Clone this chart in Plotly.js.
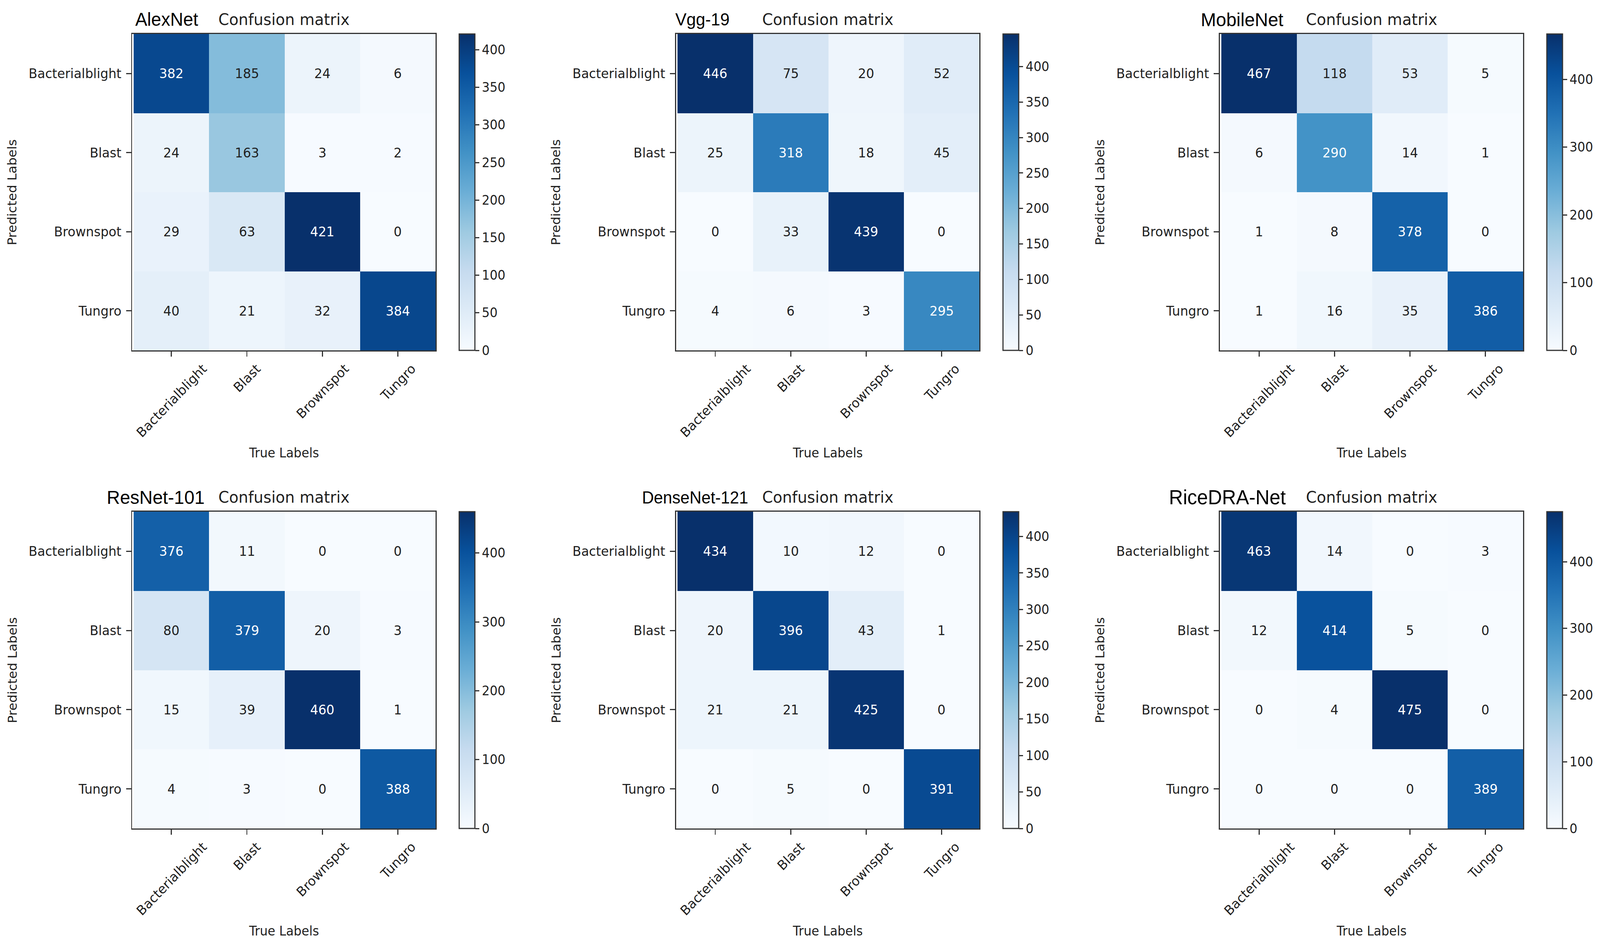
<!DOCTYPE html>
<html><head><meta charset="utf-8">
<script src="https://cdn.plot.ly/plotly-3.0.1.min.js"></script>
<style>html,body{margin:0;padding:0;background:#fff;overflow:hidden}#chart{width:4272px;height:2427px;transform-origin:0 0}</style>
</head><body><div id="chart"></div>
<script>
// ---- data ----
const classLabels = ['Bacterialblight', 'Blast', 'Brownspot', 'Tungro'];
const modelNames = ['AlexNet', 'Vgg-19', 'MobileNet', 'ResNet-101', 'DenseNet-121', 'RiceDRA-Net'];
const alexnet     = [[382,185,24,6],[24,163,3,2],[29,63,421,0],[40,21,32,384]];
const vgg19       = [[446,75,20,52],[25,318,18,45],[0,33,439,0],[4,6,3,295]];
const mobilenet   = [[467,118,53,5],[6,290,14,1],[1,8,378,0],[1,16,35,386]];
const resnet101   = [[376,11,0,0],[80,379,20,3],[15,39,460,1],[4,3,0,388]];
const densenet121 = [[434,10,12,0],[20,396,43,1],[21,21,425,0],[0,5,0,391]];
const ricedranet  = [[463,14,0,3],[12,414,5,0],[0,4,475,0],[0,0,0,389]];
const colorbarDticks = [50, 50, 100, 100, 50, 100];
const titleText = 'Confusion matrix';
const xTitle = 'True Labels';
const yTitle = 'Predicted Labels';

// ---- styling ----
const matrices = [alexnet, vgg19, mobilenet, resnet101, densenet121, ricedranet];
const W = 4272, H = 2427;
const colLeft = [353, 1805, 3257];
const cellSpan = 810;
const rowTop = [87, 1310];
const rowBottom = [897, 2121];
const nameSizes = [48, 45, 49, 49, 44, 52];
const nameOffsets = [6, -4, -53, -70, -93, -138];
const blues = [[0,'#f7fbff'],[0.125,'#deebf7'],[0.25,'#c6dbef'],[0.375,'#9ecae1'],[0.5,'#6baed6'],[0.625,'#4292c6'],[0.75,'#2171b5'],[0.875,'#08519c'],[1,'#08306b']];
const FONT = 'DejaVu Sans';
const dark = '#333333';
const txt = '#1f1f1f';

const data = [];
const layout = {
  width: W, height: H,
  margin: {l:0, r:0, t:0, b:0},
  paper_bgcolor: '#ffffff', plot_bgcolor: '#ffffff',
  showlegend: false,
  annotations: []
};

matrices.forEach((m, p) => {
  const col = p % 3, row = Math.floor(p / 3);
  const s = p === 0 ? '' : String(p + 1);
  const xa = 'x' + s, ya = 'y' + s;
  const zmax = Math.max(...m.flat());
  const left = colLeft[col];
  const right = left + cellSpan;

  layout['xaxis' + s] = {
    domain: [left / W, right / W], anchor: ya,
    type: 'category', showticklabels: false,
    ticks: 'outside', ticklen: 13, tickwidth: 3, tickcolor: dark,
    showline: true, mirror: true, linewidth: 3, linecolor: dark,
    showgrid: false, zeroline: false, fixedrange: true
  };
  layout['yaxis' + s] = {
    domain: [1 - rowBottom[row] / H, 1 - rowTop[row] / H], anchor: xa,
    type: 'category', autorange: 'reversed',
    ticks: 'outside', ticklen: 13, tickwidth: 3, tickcolor: dark,
    ticklabelstandoff: 6,
    tickfont: {family: FONT, size: 34, color: txt},
    showline: true, mirror: true, linewidth: 3, linecolor: dark,
    showgrid: false, zeroline: false, fixedrange: true
  };

  data.push({
    type: 'heatmap', z: m, x: classLabels, y: classLabels,
    xaxis: xa, yaxis: ya, colorscale: blues, zmin: 0, zmax: zmax,
    hoverinfo: 'skip', xgap: 0, ygap: 0,
    colorbar: {
      x: (right + 63) / W, xanchor: 'left', xpad: 0,
      y: 1 - rowTop[row] / H, yanchor: 'top', ypad: 0,
      lenmode: 'pixels', len: rowBottom[row] - rowTop[row],
      thicknessmode: 'pixels', thickness: 42,
      outlinewidth: 3, outlinecolor: dark,
      tick0: 0, dtick: colorbarDticks[p],
      ticks: 'outside', ticklen: 11, tickwidth: 3, tickcolor: dark,
      tickfont: {family: FONT, size: 33, color: txt}
    }
  });

  // cell values
  m.forEach((r, i) => r.forEach((v, j) => {
    layout.annotations.push({
      x: classLabels[j], y: classLabels[i], xref: xa, yref: ya,
      text: String(v), showarrow: false,
      font: {family: FONT, size: 34, color: v > zmax / 2 ? '#ffffff' : txt}
    });
  }));

  // rotated x tick labels
  classLabels.forEach(c => {
    layout.annotations.push({
      x: c, xref: xa, y: 0, yref: ya + ' domain', yshift: -24,
      xanchor: 'center', yanchor: 'top', textangle: -45,
      text: c, showarrow: false,
      font: {family: FONT, size: 34, color: txt}
    });
  });

  // axis titles
  layout.annotations.push({
    x: 0.5, xref: xa + ' domain', y: 0, yref: ya + ' domain', yshift: -262,
    xanchor: 'center', yanchor: 'middle', text: xTitle, showarrow: false,
    font: {family: FONT, size: 33, color: txt}
  });
  layout.annotations.push({
    x: 0, xref: xa + ' domain', xshift: -320, y: 0.5, yref: ya + ' domain',
    xanchor: 'center', yanchor: 'middle', textangle: -90, text: yTitle, showarrow: false,
    font: {family: FONT, size: 33, color: txt}
  });

  // titles
  layout.annotations.push({
    x: 0, xref: xa + ' domain', xshift: nameOffsets[p], y: 1, yref: ya + ' domain', yshift: 37,
    xanchor: 'left', yanchor: 'middle', text: modelNames[p], showarrow: false,
    font: {family: 'Liberation Sans', size: nameSizes[p], color: '#000000'}
  });
  layout.annotations.push({
    x: 0.5, xref: xa + ' domain', y: 1, yref: ya + ' domain', yshift: 37,
    xanchor: 'center', yanchor: 'middle', text: titleText, showarrow: false,
    font: {family: FONT, size: 41, color: txt}
  });
});

// stretch the fixed 4272x2427 drawing to fill whatever viewport the page gets
const chartDiv = document.getElementById('chart');
const vw = window.innerWidth || document.documentElement.clientWidth || W;
const vh = window.innerHeight || document.documentElement.clientHeight || H;
const kx = vw / W, ky = vh / H;
if (Math.abs(kx - 1) > 0.001 || Math.abs(ky - 1) > 0.001) {
  chartDiv.style.transform = 'scale(' + kx + ',' + ky + ')';
}

Plotly.newPlot('chart', data, layout, {staticPlot: true, displayModeBar: false});
</script>
</body></html>
